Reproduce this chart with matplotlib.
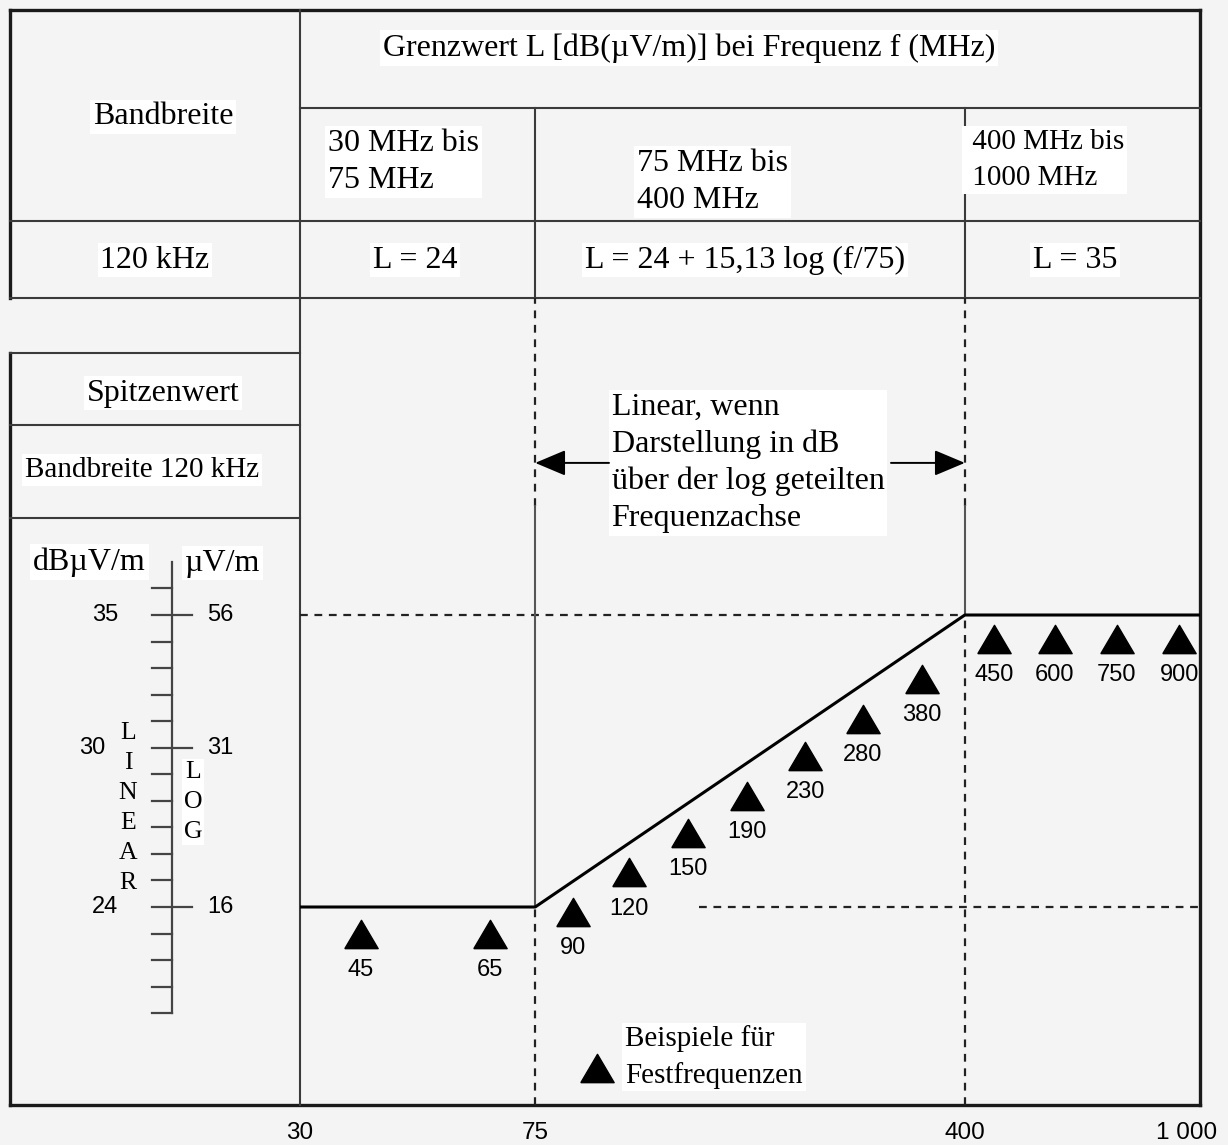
import matplotlib
matplotlib.use('Agg')
import matplotlib.pyplot as plt
import matplotlib.transforms as mtransforms
from matplotlib.ticker import NullLocator

plt.rcParams['font.family'] = 'Liberation Serif'
SANS = 'Liberation Sans'

# limit line L(f) in dB(uV/m)
limit_f = [30, 75, 400, 1000]
limit_db = [24, 24, 35, 35]

# example fixed frequencies (label, where the triangle sits on the axis, level)
mark_labels = ['45', '65', '90', '120', '150', '190', '230', '280', '380',
               '450', '600', '750', '900']
mark_f = [38, 63, 87, 108, 136, 171, 215, 269, 338, 449, 568, 723, 923]
mark_db = [23.0, 23.0, 23.8, 25.3, 26.8, 28.2, 29.7, 31.1, 32.6,
           34.1, 34.1, 34.1, 34.1]

# left scale: dBuV/m (linear) against uV/m (log)
scale_lo, scale_hi = 20, 37
scale_db = [35, 30, 24]
scale_uv = ['56', '31', '16']

x_ticks = [30, 75, 400, 1000]
x_ticklabels = ['30', '75', '400', '1 000']

W, H = 1228, 1145
fig = plt.figure(figsize=(W / 100, H / 100), dpi=100, facecolor='#f4f4f4')

# overlay in pixel units for the table and frame
ov = fig.add_axes([0, 0, 1, 1])
ov.set_xlim(0, W)
ov.set_ylim(H, 0)
ov.axis('off')
ov.set_zorder(0)

top_px, bot_px = 298, 1105
ylim = (24 - (bot_px - 907) / 26.545, 24 + (907 - top_px) / 26.545)
ax = fig.add_axes([300 / W, (H - bot_px) / H, 900 / W, (bot_px - top_px) / H])
ax.set_zorder(2)
ax.patch.set_visible(False)
ax.set_xscale('log')
ax.set_xlim(30, 1000)
ax.set_ylim(*ylim)
for s in ax.spines.values():
    s.set_visible(False)
ax.set_yticks([])
ax.set_xticks(x_ticks, x_ticklabels, fontsize=17.5, family=SANS)
ax.xaxis.set_minor_locator(NullLocator())
ax.tick_params(axis='x', length=0, pad=12)
# last label sits at the right border; nudge it so it stays on the canvas
last = ax.get_xticklabels()[-1]
last.set_transform(last.get_transform()
                   + mtransforms.ScaledTranslation(-0.13, 0, fig.dpi_scale_trans))

white = dict(facecolor='white', edgecolor='none', pad=2)

# frame and table
thick = dict(color='#1a1a1a', lw=2.4, solid_capstyle='projecting')
thin = dict(color='#3a3a3a', lw=1.5)
ov.plot([10, 1200], [10, 10], **thick)
ov.plot([10, 10], [10, 298], **thick)
ov.plot([1200, 1200], [10, 1105], **thick)
ov.plot([10, 1200], [1105, 1105], **thick)
ov.plot([10, 10], [353, 1105], **thick)
ov.plot([300, 300], [10, 1105], **thin)
ov.plot([300, 1200], [108, 108], **thin)
ov.plot([10, 1200], [221, 221], **thin)
ov.plot([10, 1200], [298, 298], **thin)
ov.plot([10, 300], [353, 353], **thin)
ov.plot([10, 300], [425, 425], **thin)
ov.plot([10, 300], [518, 518], **thin)

# column dividers follow the frequency axis
blend = mtransforms.blended_transform_factory(ax.transData, ov.transData)
for f0 in [75, 400]:
    ax.plot([f0, f0], [108, 298], transform=blend, clip_on=False, **thin)

fs = 23
ov.text(163, 117, 'Bandbreite', ha='center', va='center', fontsize=fs, bbox=white)
ov.text(383, 48, 'Grenzwert L [dB(µV/m)] bei Frequenz f (MHz)', ha='left',
        va='center', fontsize=fs, bbox=white)
ov.text(328, 162, '30 MHz bis\n75 MHz', ha='left', va='center', fontsize=fs,
        linespacing=1.39, bbox=white)
ov.text(637, 182, '75 MHz bis\n400 MHz', ha='left', va='center', fontsize=fs,
        linespacing=1.35, bbox=white)
ax.text(400, 160, ' 400 MHz bis\n 1000 MHz', transform=blend, ha='left',
        va='center', fontsize=21, linespacing=1.5, bbox=white)
ov.text(155, 260, '120 kHz', ha='center', va='center', fontsize=fs, bbox=white)
ov.text(415, 260, 'L = 24', ha='center', va='center', fontsize=fs, bbox=white)
ov.text(745, 260, 'L = 24 + 15,13 log (f/75)', ha='center', va='center',
        fontsize=fs, bbox=white)
ov.text(1075, 260, 'L = 35', ha='center', va='center', fontsize=fs, bbox=white)

# left box
ov.text(163, 393, 'Spitzenwert', ha='center', va='center', fontsize=fs, bbox=white)
ov.text(25, 470, 'Bandbreite 120 kHz', ha='left', va='center', fontsize=21,
        bbox=white)
ov.text(33, 562, 'dBµV/m', ha='left', va='center', fontsize=fs, bbox=white)
ov.text(185, 563, 'µV/m', ha='left', va='center', fontsize=fs, bbox=white)

sax = fig.add_axes([0, (H - bot_px) / H, 300 / W, (bot_px - top_px) / H])
sax.set_zorder(1)
sax.set_xlim(0, 300)
sax.set_ylim(*ylim)
sax.axis('off')
sc = '#444444'
sax.plot([172, 172], [scale_lo, scale_hi], color=sc, lw=1.6)
for d in range(scale_lo, scale_hi):
    right = 192 if d in scale_db else 172
    sax.plot([152, right], [d, d], color=sc, lw=1.6)
for d, uv in zip(scale_db, scale_uv):
    sax.text(92 if d == 30 else 105, d, str(d), ha='center', va='center',
             family=SANS, fontsize=17)
    sax.text(220, d, uv, ha='center', va='center', family=SANS, fontsize=17)
ov.text(128, 808, 'L\nI\nN\nE\nA\nR', ha='center', va='center', fontsize=18.5,
        linespacing=1.47)
ov.text(193, 802, 'L\nO\nG', ha='center', va='center', fontsize=18.5,
        linespacing=1.49, bbox=dict(facecolor='white', edgecolor='none', pad=1))

# plot region
dash = dict(color='#222222', lw=1.6, ls=(0, (3.5, 3)))
grey = dict(color='#555555', lw=1.5)
ax.plot([30, 400], [35, 35], **dash)
ax.plot([142, 1000], [24, 24], **dash)
knee = 39.1
for f0, lev in [(75, 24), (400, 35)]:
    ax.plot([f0, f0], [knee, ylim[1]], **dash)
    ax.plot([f0, f0], [lev, knee], **grey)
    ax.plot([f0, f0], [ylim[0], lev], **dash)

ax.plot(limit_f, limit_db, color='black', lw=2.2, zorder=4)

tri = [(-1, -0.85), (1, -0.85), (0, 0.85), (-1, -0.85)]
ax.plot(mark_f, mark_db, ls='none', marker=tri, ms=24, color='black', zorder=5)
for lab, f, d in zip(mark_labels, mark_f, mark_db):
    ax.annotate(lab, (f, d), xytext=(0, -26), textcoords='offset points',
                ha='center', va='center', family=SANS, fontsize=17)

# note with arrows
arrow_y = 40.73
ax.text(101, arrow_y, 'Linear, wenn\nDarstellung in dB\nüber der log geteilten\nFrequenzachse',
        ha='left', va='center', fontsize=fs, linespacing=1.355, bbox=white, zorder=3)
ap = dict(arrowstyle='-|>,head_length=0.95,head_width=0.4', color='black',
          lw=1.4, shrinkA=0, shrinkB=0, mutation_scale=20)
ax.annotate('', xy=(75, arrow_y), xytext=(100, arrow_y), arrowprops=ap)
ax.annotate('', xy=(400, arrow_y), xytext=(300, arrow_y), arrowprops=ap)

# key
ov.plot([597], [1068], ls='none', marker=tri, ms=24, color='black')
ov.text(625, 1057, 'Beispiele für\nFestfrequenzen', ha='left', va='center',
        fontsize=21, linespacing=1.44, bbox=white)

fig.savefig('out.png', dpi=100, facecolor=fig.get_facecolor())
